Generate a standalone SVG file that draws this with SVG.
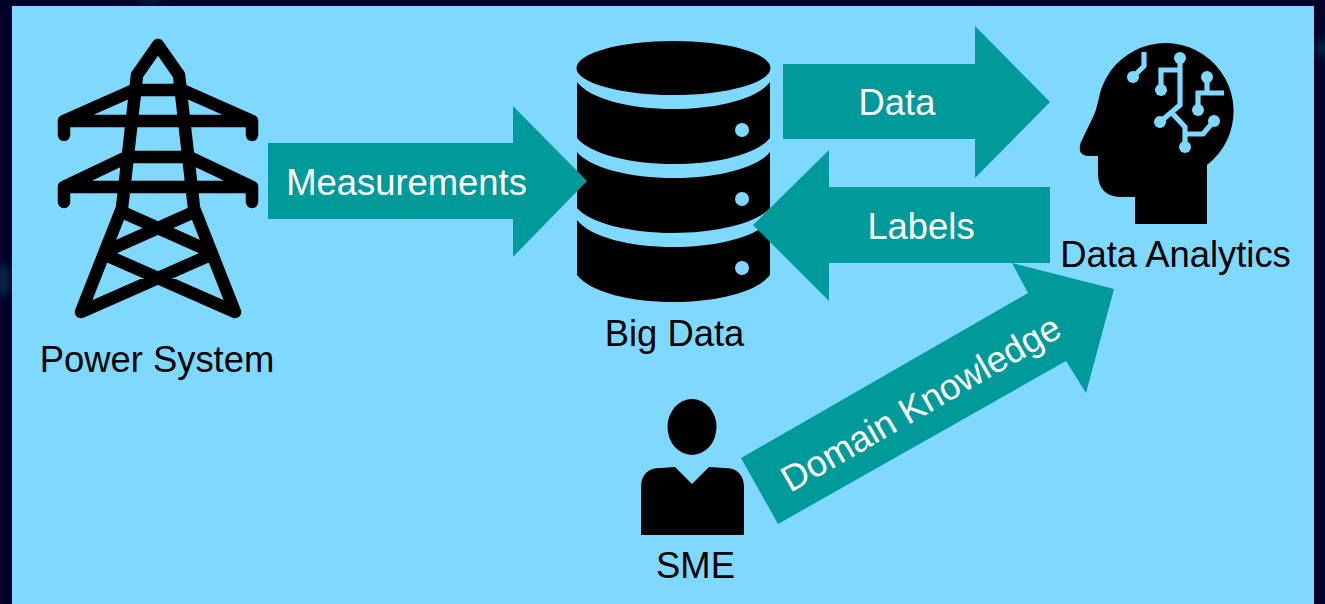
<svg xmlns="http://www.w3.org/2000/svg" width="1325" height="604" viewBox="0 0 1325 604">
<defs>
<style>
.lbl{font-family:"Liberation Sans",Arial,sans-serif;font-size:36.400px;fill:#000}
.alb{font-family:"Liberation Sans",Arial,sans-serif;font-size:36.400px;fill:#fff}
.arrow{fill:#009a9a}
.tower{fill:none;stroke:#000;stroke-width:12.500;stroke-linecap:round;stroke-linejoin:round}
.brace{fill:none;stroke:#000;stroke-width:12.500;stroke-linecap:butt}
.chip{fill:none;stroke:#7fd9ff;stroke-width:5.200;stroke-linejoin:miter}
.dot{fill:#7fd9ff}
</style>
<filter id="blur" x="-100%" y="-100%" width="300%" height="300%"><feGaussianBlur stdDeviation="4"/></filter>
</defs>
<rect width="1325" height="604" fill="#00002a"/>
<g filter="url(#blur)" fill="#0a5a6a" opacity=".55">
<ellipse cx="3" cy="280" rx="5" ry="18"/>
<ellipse cx="1322" cy="48" rx="5" ry="9"/>
<ellipse cx="150" cy="2" rx="10" ry="3"/>
</g>
<rect x="12" y="6" width="1302" height="598" fill="#7fd9ff"/>

<g id="power-system">
<path class="tower" d="M158,45 L137,75 L122,208 L81,312 L208,256 M158,45 L179,75 L194,208 L235,312 L108,256 M134,90 H182 M134,90 L64,121 V135 M182,90 L252,121 V135 M64,121 H252 M127,157 H189 M127,157 L64,187 V202 M189,157 L252,187 V202 M64,187 H252"/>
<path class="brace" d="M122,212 L205,249 M194,212 L111,249"/>
<text class="lbl" x="157" y="372" text-anchor="middle">Power System</text>
</g>

<g id="big-data">
<ellipse cx="673.500" cy="68" rx="97" ry="27"/>
<path d="M577,82 C590,99 630,109 673.500,109 C717,109 757,99 770,82 V138 C757,154 717,164 673.500,164 C630,164 590,154 577,138 Z"/>
<path d="M577,152 C590,168 630,178 673.500,178 C717,178 757,168 770,152 V208 C757,223 717,233 673.500,233 C630,233 590,223 577,208 Z"/>
<path d="M577,220 C590,237 630,247 673.500,247 C717,247 757,237 770,220 V275 C757,292 717,302 673.500,302 C630,302 590,292 577,275 Z"/>
<circle class="dot" cx="742" cy="130" r="7"/>
<circle class="dot" cx="742" cy="199" r="7"/>
<circle class="dot" cx="742" cy="268" r="7"/>
<text class="lbl" x="674.500" y="346" text-anchor="middle">Big Data</text>
</g>

<g id="data-analytics">
<path d="M1135,224 H1207 V165 A68,68 0 1 0 1100,93 Q1097,108 1094,115 L1081,142 Q1076,156 1090,156 H1098 V173 Q1098,197 1122,197 H1135 Z"/>
<path class="chip" d="M1133,77 L1144,66 V52 M1180,58 V105 L1160,122 M1172,113 L1185,127 V147 M1185,134 H1203 L1214,121 M1180,70 H1161 V90 M1207,77 V93 M1224,93 H1198 V110"/>
<circle class="dot" cx="1133" cy="77" r="6"/>
<circle class="dot" cx="1180" cy="58" r="6"/>
<circle class="dot" cx="1207" cy="77" r="6"/>
<circle class="dot" cx="1161" cy="90" r="6"/>
<circle class="dot" cx="1198" cy="110" r="6"/>
<circle class="dot" cx="1160" cy="122" r="6"/>
<circle class="dot" cx="1214" cy="121" r="6"/>
<circle class="dot" cx="1185" cy="147" r="6"/>
<text class="lbl" x="1175.500" y="267" text-anchor="middle">Data Analytics</text>
</g>

<g id="sme">
<ellipse cx="692" cy="427" rx="24.500" ry="28"/>
<path d="M641,535 V487 C641,475 648,468 660,468 L675,467 L692,484 L709,467 L725,468 C737,468 744,475 744,487 V535 Z"/>
<text class="lbl" x="695.500" y="578" text-anchor="middle">SME</text>
</g>

<g id="connectors">
<g id="arrow-measurements">
<polygon class="arrow" points="268,143 513,143 513,106 587,181 513,257 513,219 268,219"/>
<text class="alb" x="406.500" y="195" text-anchor="middle">Measurements</text>
</g>
<g id="arrow-data">
<polygon class="arrow" points="783,64 975,64 975,26 1050,102 975,178 975,139 783,139"/>
<text class="alb" x="897" y="115" text-anchor="middle">Data</text>
</g>
<g id="arrow-labels">
<polygon class="arrow" points="1050,187 829,187 829,150 753,225 829,301 829,263 1050,263"/>
<text class="alb" x="921" y="239" text-anchor="middle">Labels</text>
</g>
<g id="arrow-domain">
<polygon class="arrow" points="741,458 1028,293 1012,263 1114,289 1086,393 1066,361 778,524"/>
<text class="alb" text-anchor="middle" transform="translate(927,414) rotate(-30)">Domain Knowledge</text>
</g>
</g>
</svg>
